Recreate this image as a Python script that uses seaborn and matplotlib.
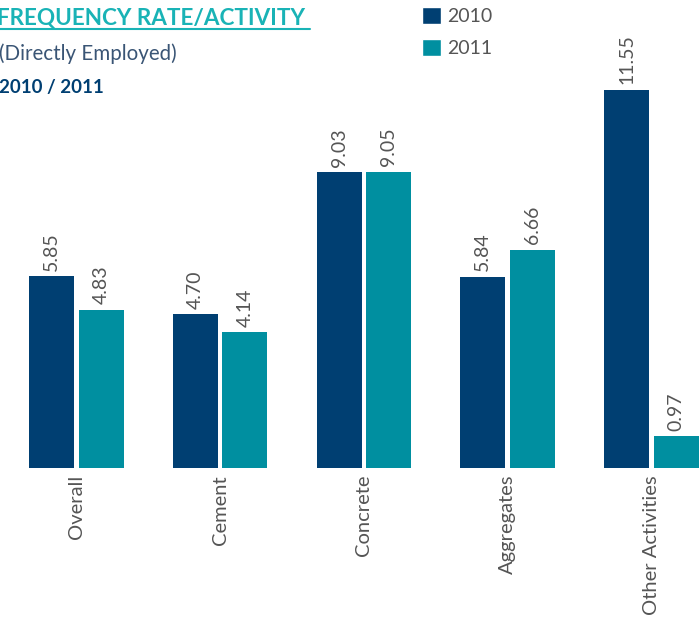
import matplotlib
matplotlib.use("Agg")
import numpy as np
import pandas as pd
import seaborn as sns
from matplotlib import pyplot as plt
from matplotlib.lines import Line2D
from matplotlib.patches import Patch

CATEGORIES = ["Overall", "Cement", "Concrete", "Aggregates", "Other Activities"]
YEARS = ["2010", "2011"]
VALUES_2010 = [5.85, 4.70, 9.03, 5.84, 11.55]
VALUES_2011 = [4.83, 4.14, 9.05, 6.66, 0.97]

DARK_BLUE = "#003f72"
TEAL = "#008fa0"
TITLE_TEAL = "#19b3b6"
GRAY = "#555555"

if __name__ == "__main__":
    sns.set_style("white")
    plt.rcParams['font.family'] = ['Lato', 'DejaVu Sans']

    df = pd.DataFrame({
        "category": CATEGORIES * 2,
        "year": [YEARS[0]] * len(CATEGORIES) + [YEARS[1]] * len(CATEGORIES),
        "value": VALUES_2010 + VALUES_2011,
    })

    fig = plt.figure(figsize=(7, 6.22), dpi=100)
    ax = fig.add_axes([0, (622 - 468) / 622, 1, 468 / 622])

    sns.barplot(data=df, x="category", y="value", hue="year", order=CATEGORIES,
                hue_order=YEARS, palette=[DARK_BLUE, TEAL], width=0.689, gap=0.09,
                saturation=1, legend=False, linewidth=0, ax=ax)

    for container in ax.containers:
        ax.bar_label(container, fmt="%.2f", rotation=90, padding=4,
                     fontsize=14, color=GRAY)

    ax.set_xlim(-0.532, 4.339)
    ax.set_ylim(0, 468 / 32.75)
    ax.set_xlabel("")
    ax.set_ylabel("")
    ax.set_yticks([])
    ax.tick_params(axis="x", length=0, pad=5)
    for lbl in ax.get_xticklabels():
        lbl.set_rotation(90)
        lbl.set_fontsize(14.5)
        lbl.set_color(GRAY)
        lbl.set_va("top")
        lbl.set_ha("center")
    sns.despine(ax=ax, left=True, bottom=True)

    # title block
    fig.text(-0.004, 1 - 18 / 622, "FREQUENCY RATE/ACTIVITY", fontsize=16.2,
             fontweight="bold", color=TITLE_TEAL, va="center", ha="left")
    fig.add_artist(Line2D([0, 310 / 700], [1 - 29 / 622, 1 - 29 / 622],
                          color=TITLE_TEAL, lw=1.5))
    fig.text(-0.002, 1 - 54 / 622, "(Directly Employed)", fontsize=14.8,
             color="#3a5575", va="center", ha="left")
    fig.text(-0.002, 1 - 88 / 622, "2010 / 2011", fontsize=13.5,
             fontweight="bold", color=DARK_BLUE, va="center", ha="left")

    handles = [Patch(facecolor=DARK_BLUE, label=YEARS[0]),
               Patch(facecolor=TEAL, label=YEARS[1])]
    fig.legend(handles=handles, loc="upper left", bbox_to_anchor=(404 / 700, 1.017),
               frameon=False, handlelength=1.0, handleheight=1.0,
               handletextpad=0.3, labelspacing=0.7, fontsize=14,
               labelcolor=GRAY)

    plt.savefig("out.png", dpi=100)
